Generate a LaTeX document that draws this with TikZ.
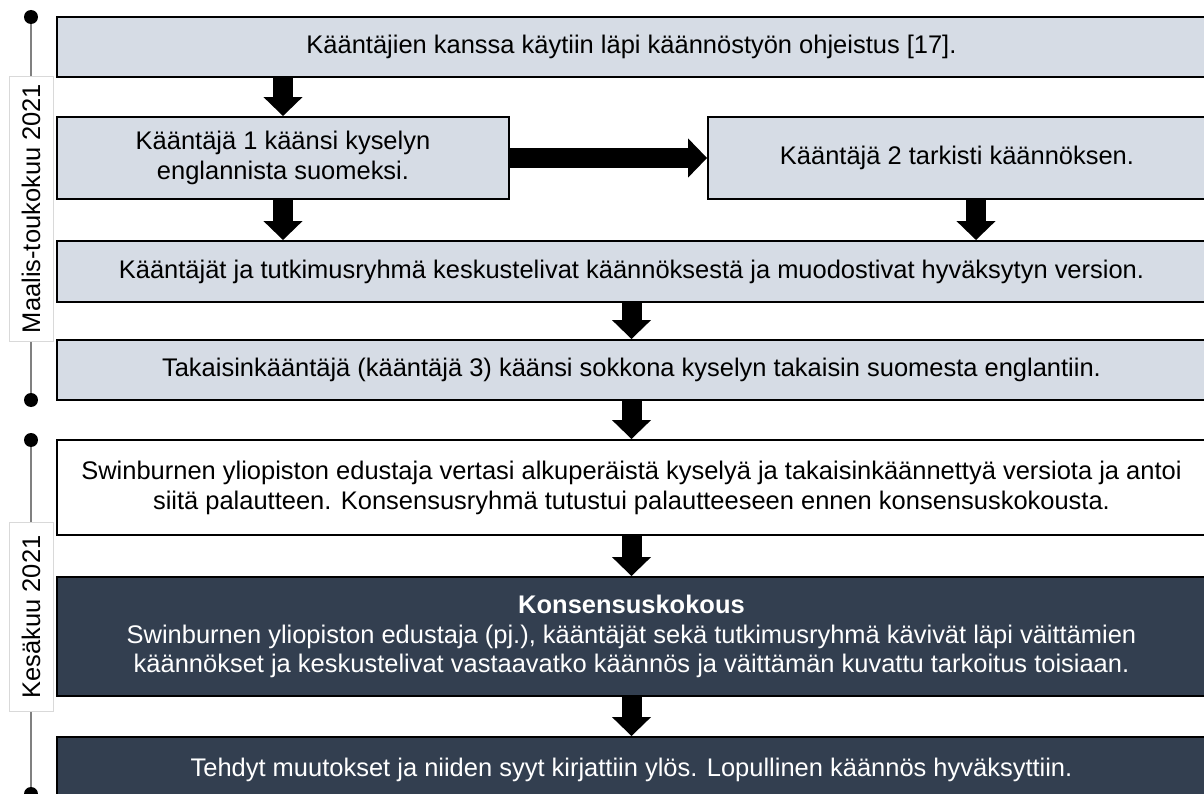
\documentclass[tikz,border=0pt]{standalone}
\usepackage{fontspec}
\setmainfont{Liberation Sans}
\usetikzlibrary{
    arrows.meta,
    positioning,
    calc
}
\definecolor{boxgray}{HTML}{D6DCE5}
\definecolor{boxdark}{HTML}{333F50}
\definecolor{linegray}{HTML}{808080}
\definecolor{labelgray}{HTML}{D9D9D9}
\tikzstyle{lightbox} = [
    rectangle,
    draw=black,
    line width=1.1pt,
    fill=boxgray,
    inner sep=0pt,
    align=center,
    font=\fontsize{14.5}{17}\selectfont
]
\tikzstyle{whitebox} = [
    lightbox,
    fill=white
]
\tikzstyle{darkbox} = [
    lightbox,
    fill=boxdark,
    text=white
]
\tikzstyle{bigarrow} = [
    draw=black,
    line width=0.4cm,
    -{Triangle[width=0.76cm, length=0.38cm]}
]
\tikzstyle{tdot} = [
    circle,
    fill=black,
    inner sep=0pt,
    minimum size=0.28cm
]
\tikzstyle{tline} = [
    draw=linegray,
    line width=1pt
]
\tikzstyle{tlabel} = [
    rectangle,
    rotate=90,
    draw=labelgray,
    fill=white,
    line width=0.5pt,
    inner sep=0pt,
    minimum height=0.88cm,
    font=\fontsize{14.5}{17}\selectfont
]

\begin{document}
\begin{tikzpicture}[x=0.02cm, y=-0.02cm]
        \useasboundingbox (0,0) rectangle (1204,794);

        % Timeline (left)
        \node[tdot] (d1) at (31,17) {};
        \node[tdot] (d2) at (31,400) {};
        \node[tdot] (d3) at (31,440) {};
        \node[tdot] (d4) at (31,794) {};
        \draw[tline] (d1) -- (d2);
        \draw[tline] (d3) -- (d4);
        \node[tlabel, minimum width=5.3cm] (spring) at ($(d1)!0.5!(d2)$) {Maalis-toukokuu 2021};
        \node[tlabel, minimum width=3.78cm] (june) at ($(d3)!0.5!(d4)$) {Kesäkuu 2021};

        % Translation steps
        \node[lightbox, minimum width=22.98cm, minimum height=1.2cm] (guide) at (631.5,47) {Kääntäjien kanssa käytiin läpi käännöstyön ohjeistus [17].};
        \node[lightbox, minimum width=9.04cm, minimum height=1.64cm] (trans1) at (283,158) {Kääntäjä 1 käänsi kyselyn\\englannista suomeksi.};
        \node[lightbox, minimum width=9.96cm, minimum height=1.64cm] (trans2) at (957,158) {Kääntäjä 2 tarkisti käännöksen.};
        \node[lightbox, minimum width=22.98cm, minimum height=1.22cm] (agreed) at (631.5,271.5) {Kääntäjät ja tutkimusryhmä keskustelivat käännöksestä ja muodostivat hyväksytyn version.};
        \node[lightbox, minimum width=22.98cm, minimum height=1.2cm] (back) at (631.5,370) {Takaisinkääntäjä (kääntäjä 3) käänsi sokkona kyselyn takaisin suomesta englantiin.};

        % Review and consensus
        \node[whitebox, minimum width=22.98cm, minimum height=1.9cm] (review) at (631.5,487.5) {Swinburnen yliopiston edustaja vertasi alkuperäistä kyselyä ja takaisinkäännettyä versiota ja antoi\\siitä palautteen. Konsensusryhmä tutustui palautteeseen ennen konsensuskokousta.};
        \node[darkbox, minimum width=22.98cm, minimum height=2.38cm] (meeting) at (631.5,636.5) {\textbf{Konsensuskokous}\\Swinburnen yliopiston edustaja (pj.), kääntäjät sekä tutkimusryhmä kävivät läpi väittämien\\käännökset ja keskustelivat vastaavatko käännös ja väittämän kuvattu tarkoitus toisiaan.};
        \node[darkbox, minimum width=22.98cm, minimum height=1.32cm] (final) at (631.5,770) {Tehdyt muutokset ja niiden syyt kirjattiin ylös. Lopullinen käännös hyväksyttiin.};

        % Block arrows
        \draw[bigarrow] (guide.south -| trans1.north) -- (trans1.north);
        \draw[bigarrow] (trans1.east) -- (trans2.west);
        \draw[bigarrow] (trans1.south) -- (trans1.south |- agreed.north);
        \draw[bigarrow] ([xshift=0.38cm]trans2.south) -- ([xshift=0.38cm]trans2.south |- agreed.north);
        \draw[bigarrow] (agreed.south) -- (back.north);
        \draw[bigarrow] (back.south) -- (review.north);
        \draw[bigarrow] (review.south) -- (meeting.north);
        \draw[bigarrow] (meeting.south) -- (final.north);
    \end{tikzpicture}
\end{document}
